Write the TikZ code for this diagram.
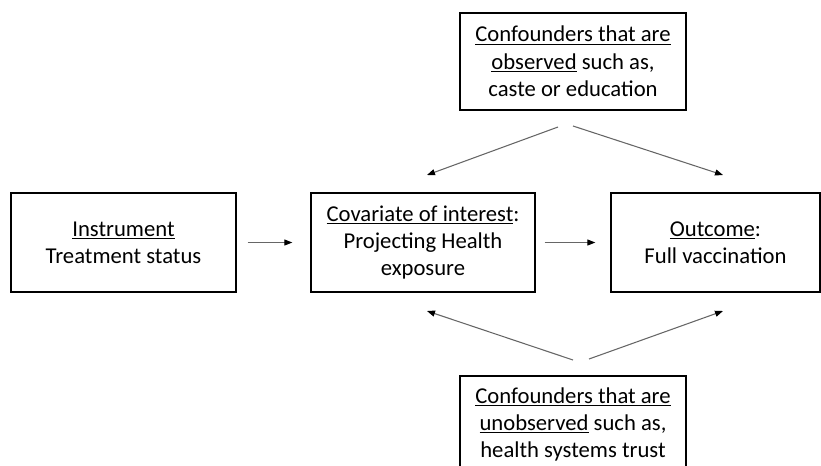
\documentclass[tikz,border=0pt]{standalone}
\usepackage{fontspec}
\setmainfont{Carlito}
\usetikzlibrary{arrows.meta}

\begin{document}
\begin{tikzpicture}[x=0.75pt, y=-0.75pt,
    every node/.style={draw=black, line width=1pt, align=center, inner sep=0pt,
        minimum height=74.25pt, font=\fontsize{17}{20.5}\selectfont},
    link/.style={draw=black!60, line width=0.8pt},
    >={Triangle[length=6pt,width=4.5pt,color=black]}  % small dark heads
]
    \clip (0,0) rectangle (821,465);

    \node[minimum width=168.75pt] (inst) at (123.5,242.5) {\underline{Instrument}\\Treatment status};
    \node[minimum width=168pt] (cov) at (423,242.5) {\underline{Covariate of interest}:\\Projecting Health\\exposure};
    \node[minimum width=156.75pt] (out) at (715.5,242.5) {\underline{Outcome}:\\Full vaccination};
    \node[minimum width=169.5pt, minimum height=72.75pt] (obs) at (573,61.5)
        {\underline{Confounders that are}\\\underline{observed} such as,\\caste or education};
    \node[minimum width=169.5pt, minimum height=72.75pt] (unobs) at (573,424.5)
        {\underline{Confounders that are}\\\underline{unobserved} such as,\\health systems trust};

    % free ends of the slanted arrows
    \coordinate (obsL) at (558,127);
    \coordinate (obsR) at (573,126);
    \coordinate (unobsL) at (573,360);
    \coordinate (unobsR) at (589,359);
    \coordinate (covT) at (427,175);
    \coordinate (outT) at (723,175);
    \coordinate (covB) at (427,311);
    \coordinate (outB) at (723,311);

    \draw[link, ->, shorten <=8.25pt, shorten >=13.5pt] (inst) -- (cov);
    \draw[link, ->, shorten <=6.75pt, shorten >=11.25pt] (cov) -- (out);
    \foreach \a/\b in {obsL/covT, obsR/outT, unobsL/covB, unobsR/outB}
        \draw[link, ->] (\a) -- (\b);
\end{tikzpicture}
\end{document}
